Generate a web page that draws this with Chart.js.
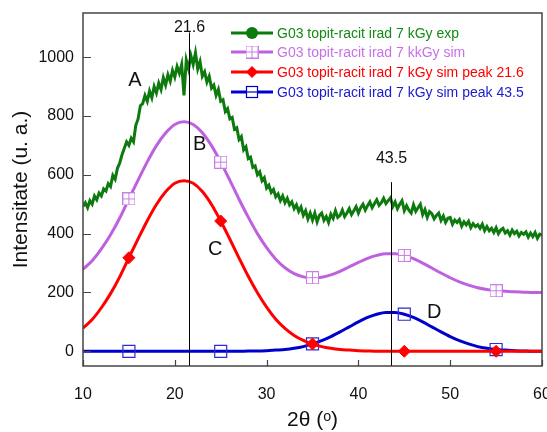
<!DOCTYPE html>
<html>
<head>
<meta charset="utf-8">
<script src="https://cdn.jsdelivr.net/npm/chart.js@4.4.1/dist/chart.umd.min.js"></script>
<style>
  html, body { margin: 0; padding: 0; background: #fff; }
  #wrap { width: 547px; height: 432px; }
</style>
</head>
<body>
<div id="wrap"><canvas id="xrd"></canvas></div>
<script>
// measured pattern, one reading every 0.25 deg starting at 10 deg
const expStart = 10;
const expStep = 0.25;
const expY = [
  492, 505, 488, 512,   500, 528, 515, 538,   528, 552, 545, 570,   560, 598, 585, 622,
  640, 668, 690, 712,   700, 724, 712, 768,   790, 835, 842, 870,   850, 885, 862, 900,
  878, 912, 890, 930,   905, 940, 918, 955,   932, 968, 945, 975,   870, 990, 960, 1005,
  975, 1015, 960, 985,  935, 950, 915, 935,   895, 905, 870, 890,   850, 855, 815, 825,
  790, 795, 755, 760,   720, 730, 685, 695,   655, 660, 625, 630,   600, 610, 580, 590,
  555, 565, 540, 550,   525, 535, 512, 528,   505, 520, 498, 508,   485, 498, 475, 490,
  462, 478, 450, 470,   446, 470, 440, 462,   470, 445, 458, 438,   466, 452, 478, 455,
  462, 480, 458, 470,   485, 465, 478, 492,   470, 488, 500, 480,   495, 508, 488, 502,
  515, 496, 505, 520,   502, 512, 522, 492,   508, 485, 500, 512,   478, 495, 480, 470,
  498, 476, 488, 500,   465, 482, 455, 475,   468, 450, 462, 470,   445, 460, 438, 452,
  455, 432, 446, 438,   448, 425, 440, 430,   442, 420, 434, 424,   430, 418, 432, 410,
  424, 410, 418, 404,   420, 400, 412, 418,   402, 410, 395, 412,   400, 408, 392, 404,
  398, 406, 388, 402,   390, 404, 384, 398,   395
];

// fitted curves, one value per degree from 10 to 60
const simStart = 10;
const simStep = 1;
const simY = [
  279, 308, 348, 396, 453, 518, 582, 644, 699, 742,
  771, 780, 771, 743, 699, 643, 581, 517, 456, 400,
  352, 313, 284, 264, 253, 250, 252, 260, 272, 287,
  302, 316, 326, 332, 332, 326, 315, 300, 283, 266,
  250, 236, 225, 216, 210, 206, 204, 202, 201, 200, 200
];
const peak1Y = [
  79, 108, 148, 196, 253, 318, 382, 444, 499, 542,
  571, 580, 571, 543, 499, 443, 381, 317, 255, 199,
  150, 109, 78, 54, 37, 25, 16, 10, 6, 4,
  2, 1, 0, 0, 0, 0, 0, 0, 0, 0,
  0, 0, 0, 0, 0, 0, 0, 0, 0, 0, 0
];
const peak2Y = [
  0, 0, 0, 0, 0, 0, 0, 0, 0, 0,
  0, 0, 0, 0, 0, 0, 0, 0, 1, 1,
  2, 4, 6, 10, 16, 25, 36, 50, 66, 83,
  100, 115, 126, 132, 132, 126, 115, 100, 83, 66,
  50, 36, 25, 16, 10, 6, 4, 2, 1, 0, 0
];

const markerX = [15, 25, 35, 45, 55];
const yTicks = [0, 200, 400, 600, 800, 1000];
const peakPos = [21.6, 43.5];
const seriesNames = [
  'G03 topit-racit irad 7 kGy exp',
  'G03 topit-racit irad 7 kkGy sim',
  'G03 topit-racit irad 7 kGy sim peak 21.6',
  'G03 topit-racit irad 7 kGy sim peak 43.5'
];

const FONT = 'Arial, "Liberation Sans", sans-serif';
const GREEN = '#0d7a0d', VIOLET = '#bf60e0', RED = '#ff0000', BLUE = '#0000cc';

const toPoints = (start, step, ys) => ys.map((v, i) => ({ x: start + i * step, y: v }));

function makeMarker(size, draw) {
  const c = document.createElement('canvas');
  c.width = size; c.height = size;
  draw(c.getContext('2d'), size);
  return c;
}
// square with a cross inside, used for the sum curve
const gridBox = makeMarker(13, (g, s) => {
  g.fillStyle = '#fff';
  g.fillRect(0, 0, s, s);
  g.strokeStyle = '#c77ee8';
  g.lineWidth = 1;
  g.strokeRect(0.5, 0.5, s - 1, s - 1);
  g.beginPath();
  g.moveTo(s / 2, 0); g.lineTo(s / 2, s);
  g.moveTo(0, s / 2); g.lineTo(s, s / 2);
  g.stroke();
});

const atMarker = r => ctx => markerX.includes(ctx.raw && ctx.raw.x) ? r : 0;

const annotate = {
  id: 'annotate',
  afterDatasetsDraw(chart) {
    const { ctx, chartArea: a, scales: { x, y } } = chart;
    ctx.save();
    ctx.strokeStyle = '#000';
    ctx.lineWidth = 1;
    ctx.fillStyle = '#111';
    ctx.textAlign = 'center';
    ctx.textBaseline = 'middle';
    ctx.font = '16px ' + FONT;
    const lineTop = [1084, 575], labelAt = [1100, 655];
    peakPos.forEach((p, i) => {
      const px = Math.round(x.getPixelForValue(p)) + 0.5;
      ctx.beginPath();
      ctx.moveTo(px, y.getPixelForValue(lineTop[i]));
      ctx.lineTo(px, a.bottom);
      ctx.stroke();
      ctx.fillText(String(p), px, y.getPixelForValue(labelAt[i]));
    });
    ctx.font = '20px ' + FONT;
    [['A', 15.65, 921], ['B', 22.7, 704], ['C', 24.4, 345], ['D', 48.25, 131]]
      .forEach(([t, vx, vy]) => ctx.fillText(t, x.getPixelForValue(vx), y.getPixelForValue(vy)));

    // frame with inward ticks
    ctx.strokeStyle = '#444';
    ctx.lineWidth = 1.5;
    ctx.strokeRect(a.left, a.top, a.right - a.left, a.bottom - a.top);
    ctx.lineWidth = 1.2;
    ctx.beginPath();
    y.ticks.forEach(t => {
      const py = Math.round(y.getPixelForValue(t.value)) + 0.5;
      ctx.moveTo(a.left, py); ctx.lineTo(a.left + 8, py);
    });
    x.ticks.forEach(t => {
      const px = Math.round(x.getPixelForValue(t.value)) + 0.5;
      ctx.moveTo(px, a.bottom); ctx.lineTo(px, a.bottom - 6);
    });
    ctx.stroke();
    ctx.restore();
  },
  afterDraw(chart) {
    // legend in the upper right corner of the plot
    const { ctx } = chart;
    const rows = [33, 52, 72, 92];
    ctx.save();
    ctx.font = '14px ' + FONT;
    ctx.textBaseline = 'middle';
    ctx.textAlign = 'left';
    chart.data.datasets.forEach((ds, i) => {
      const ry = rows[i];
      ctx.strokeStyle = ds.borderColor;
      ctx.lineWidth = 3;
      ctx.beginPath(); ctx.moveTo(231, ry); ctx.lineTo(273, ry); ctx.stroke();
      const mx = 252;
      if (i === 0) {
        ctx.fillStyle = ds.borderColor;
        ctx.beginPath(); ctx.arc(mx, ry, 6, 0, Math.PI * 2); ctx.fill();
      } else if (i === 1) {
        ctx.drawImage(gridBox, mx - 6.5, ry - 6.5);
      } else if (i === 2) {
        ctx.fillStyle = RED;
        ctx.beginPath();
        ctx.moveTo(mx, ry - 6); ctx.lineTo(mx + 6, ry); ctx.lineTo(mx, ry + 6); ctx.lineTo(mx - 6, ry);
        ctx.closePath(); ctx.fill();
      } else {
        ctx.fillStyle = '#fff';
        ctx.fillRect(mx - 6, ry - 6, 12, 12);
        ctx.strokeStyle = BLUE;
        ctx.lineWidth = 1.2;
        ctx.strokeRect(mx - 5.5, ry - 5.5, 11, 11);
        ctx.beginPath(); ctx.moveTo(mx - 6, ry); ctx.lineTo(mx + 6, ry); ctx.stroke();
      }
      ctx.fillStyle = ds.legendText;
      ctx.fillText(ds.label, 277, ry + 1);
    });
    ctx.restore();
  }
};

new Chart(document.getElementById('xrd'), {
  type: 'line',
  data: {
    datasets: [
      {
        label: seriesNames[0],
        data: toPoints(expStart, expStep, expY),
        borderColor: GREEN, legendText: '#138a13',
        borderWidth: 3, pointRadius: 0, tension: 0
      },
      {
        label: seriesNames[1],
        data: toPoints(simStart, simStep, simY),
        borderColor: VIOLET, legendText: '#c672e6',
        borderWidth: 3, cubicInterpolationMode: 'monotone',
        pointStyle: gridBox, pointRadius: atMarker(6)
      },
      {
        label: seriesNames[2],
        data: toPoints(simStart, simStep, peak1Y),
        borderColor: RED, legendText: RED,
        borderWidth: 3, cubicInterpolationMode: 'monotone',
        pointStyle: 'rectRot', pointRadius: atMarker(6),
        pointBackgroundColor: RED, pointBorderColor: RED, pointBorderWidth: 1
      },
      {
        label: seriesNames[3],
        data: toPoints(simStart, simStep, peak2Y),
        borderColor: BLUE, legendText: '#1a1ad0',
        borderWidth: 3, cubicInterpolationMode: 'monotone',
        pointStyle: 'rect', pointRadius: atMarker(8.5),
        pointBackgroundColor: 'rgba(0,0,0,0)', pointBorderColor: '#2b2bdd', pointBorderWidth: 1.2
      }
    ]
  },
  options: {
    responsive: true,
    maintainAspectRatio: false,
    animation: false,
    layout: { padding: { top: 13, right: 5, left: 0, bottom: 0 } },
    plugins: { legend: { display: false }, tooltip: { enabled: false } },
    scales: {
      x: {
        type: 'linear', min: 10, max: 60,
        border: { display: false },
        grid: { display: false, drawTicks: false },
        ticks: { stepSize: 10, padding: 19, color: '#111', font: { size: 16, family: FONT } },
        title: {
          display: true, text: '2θ (ᵒ)', color: '#111',
          font: { size: 21, family: FONT, lineHeight: 1 },
          padding: { top: 0, bottom: 1 }
        },
        afterFit(s) { s.height = 66; s.paddingLeft = 0; s.paddingRight = 0; }
      },
      y: {
        min: -50, max: 1150,
        border: { display: false },
        grid: { display: false, drawTicks: false },
        ticks: { padding: 9, color: '#111', font: { size: 16, family: FONT }, callback: v => String(v) },
        afterBuildTicks(s) { s.ticks = yTicks.map(v => ({ value: v })); },
        title: {
          display: true, text: 'Intensitate (u. a.)', color: '#111',
          font: { size: 21, family: FONT, lineHeight: 1 },
          padding: { top: 11, bottom: 0 }
        },
        afterFit(s) { s.width = 83; s.paddingTop = 0; s.paddingBottom = 0; }
      }
    }
  },
  plugins: [annotate]
});
</script>
</body>
</html>
